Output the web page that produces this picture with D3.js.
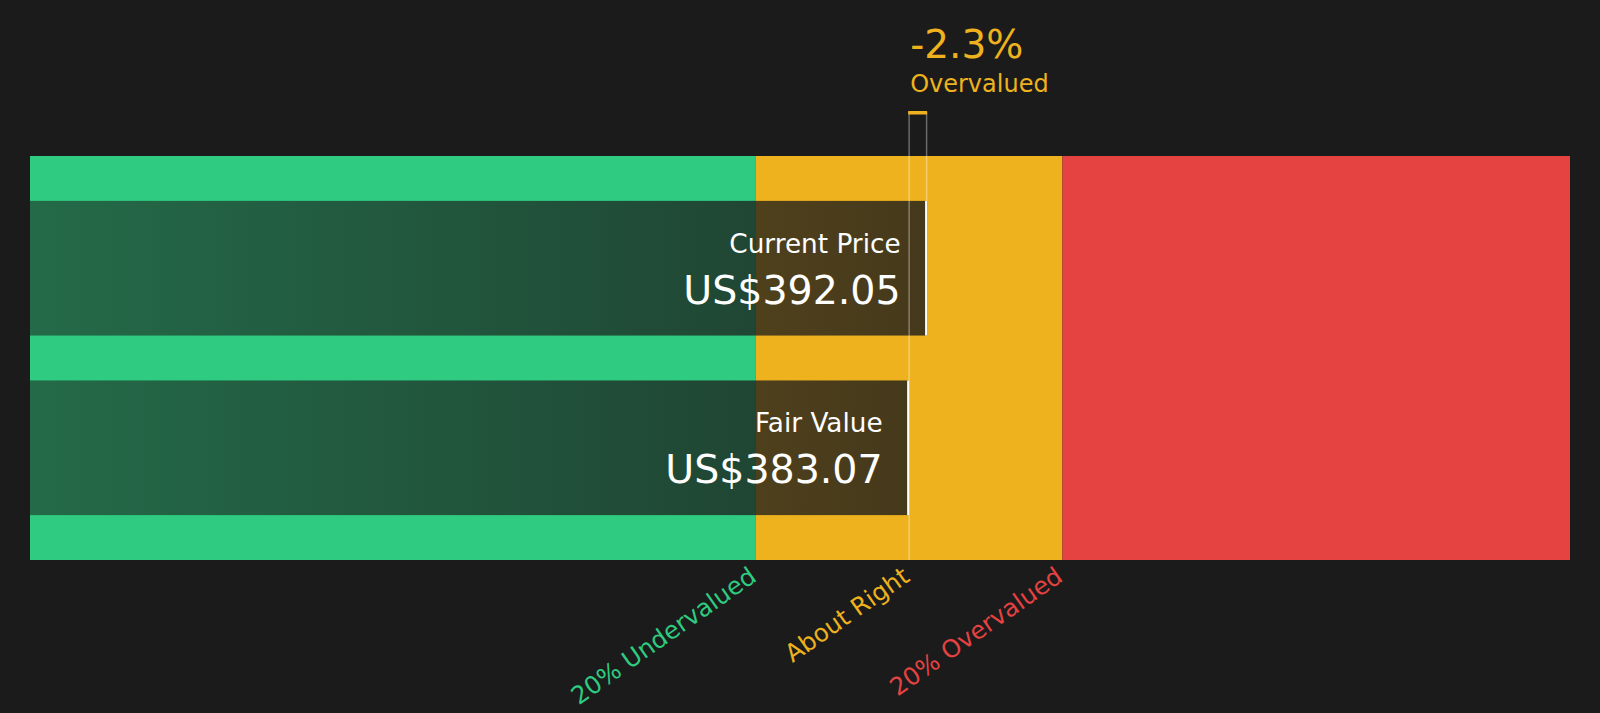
<!DOCTYPE html>
<html>
<head>
<meta charset="utf-8">
<script src="https://cdn.jsdelivr.net/npm/d3@7"></script>
<style>
html,body{margin:0;padding:0;background:#1b1b1b;}
svg{display:block;}
</style>
</head>
<body>
<svg id="chart" width="1600" height="713"></svg>
<script>
// ---- data ----
const categories = ["Current Price", "Fair Value"];
const prices = [392.05, 383.07];
const priceLabels = ["US$392.05", "US$383.07"];
const zoneNames = ["20% Undervalued", "About Right", "20% Overvalued"];
const zoneStarts = [-56.5, 306.46, 459.68];
const zoneEnds = [306.46, 459.68, 713.5];
const zoneLabelAt = [306.46, 383.07, 459.68];
const zoneColors = ["#2ecb80", "#eeb21e", "#e54242"];
const diffText = "-2.3%";
const diffLabel = "Overvalued";

const svg = d3.select("#chart");
const font = "DejaVu Sans, Verdana, sans-serif";

const x = d3.scaleLinear().domain([zoneStarts[0], zoneEnds[2]]).range([30, 1570]);
const y = d3.scaleBand().domain(categories).range([156, 560]).paddingInner(0.25).paddingOuter(0.25);

// gradient for dark bars
const defs = svg.append("defs");
const grad = defs.append("linearGradient").attr("id", "darkGrad")
  .attr("x1", "0%").attr("x2", "100%").attr("y1", "0%").attr("y2", "0%");
grad.append("stop").attr("offset", "0%").attr("stop-color", "#1b1b1b").attr("stop-opacity", 0.55);
grad.append("stop").attr("offset", "100%").attr("stop-color", "#1b1b1b").attr("stop-opacity", 0.8);

// zones
svg.selectAll("rect.zone").data(zoneNames).enter().append("rect")
  .attr("class", "zone")
  .attr("x", (d, i) => x(zoneStarts[i]))
  .attr("width", (d, i) => x(zoneEnds[i]) - x(zoneStarts[i]))
  .attr("y", 156).attr("height", 404)
  .attr("fill", (d, i) => zoneColors[i]);

// dark bars
svg.selectAll("rect.bar").data(categories).enter().append("rect")
  .attr("class", "bar")
  .attr("x", x(zoneStarts[0]))
  .attr("width", (d, i) => x(prices[i]) - x(zoneStarts[0]))
  .attr("y", d => y(d)).attr("height", y.bandwidth())
  .attr("fill", "url(#darkGrad)");

// white right edges
svg.selectAll("line.edge").data(categories).enter().append("line")
  .attr("x1", (d, i) => x(prices[i]) - 1).attr("x2", (d, i) => x(prices[i]) - 1)
  .attr("y1", d => y(d)).attr("y2", d => y(d) + y.bandwidth())
  .attr("stroke", "#ffffff").attr("stroke-width", 2);

// marker lines
const xf = x(prices[1]), xc = x(prices[0]);
svg.append("line").attr("x1", xf).attr("x2", xf).attr("y1", 112).attr("y2", 560)
  .attr("stroke", "#ffffff").attr("stroke-opacity", 0.35).attr("stroke-width", 1.5);
svg.append("line").attr("x1", xc - 0.5).attr("x2", xc - 0.5).attr("y1", 112).attr("y2", y(categories[0]))
  .attr("stroke", "#ffffff").attr("stroke-opacity", 0.35).attr("stroke-width", 1.5);
svg.append("rect").attr("x", xf - 1).attr("width", xc - xf + 1).attr("y", 111).attr("height", 3.5)
  .attr("fill", zoneColors[1]);

// diff text
svg.append("text").attr("x", xf + 1).attr("y", 58).text(diffText)
  .attr("fill", zoneColors[1]).attr("font-family", font).attr("font-size", 39);
svg.append("text").attr("x", xf + 1).attr("y", 92).text(diffLabel)
  .attr("fill", zoneColors[1]).attr("font-family", font).attr("font-size", 24);

// bar labels
svg.selectAll("text.cat").data(categories).enter().append("text")
  .attr("x", (d, i) => x(prices[i]) - 26.5)
  .attr("y", d => y(d) + 52)
  .attr("text-anchor", "end").attr("fill", "#ffffff")
  .attr("font-family", font).attr("font-size", 26.3)
  .text(d => d);
svg.selectAll("text.val").data(categories).enter().append("text")
  .attr("x", (d, i) => x(prices[i]) - 26.5)
  .attr("y", d => y(d) + 103)
  .attr("text-anchor", "end").attr("fill", "#ffffff")
  .attr("font-family", font).attr("font-size", 39.5)
  .text((d, i) => priceLabels[i]);

// zone labels
svg.selectAll("text.zl").data(zoneNames).enter().append("text")
  .attr("transform", (d, i) => `translate(${x(zoneLabelAt[i]) + 2},580) rotate(-35)`)
  .attr("text-anchor", "end")
  .attr("fill", (d, i) => zoneColors[i])
  .attr("font-family", font).attr("font-size", 24.5)
  .text(d => d);
</script>
</body>
</html>
